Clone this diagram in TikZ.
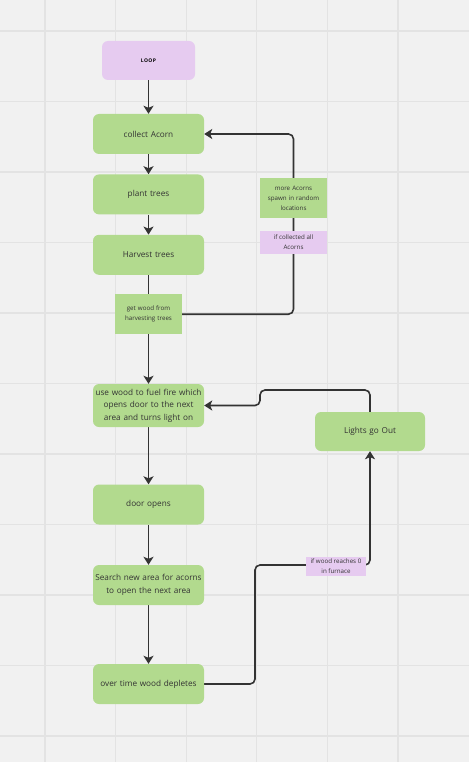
\documentclass[tikz,border=0pt]{standalone}
\usepackage{fontspec}
\setmainfont{Open Sans}
\usetikzlibrary{arrows.meta,positioning,backgrounds}
\definecolor{mgreen}{HTML}{B2DA8E}
\definecolor{mpurple}{HTML}{E6CBF0}
\definecolor{mbg}{HTML}{F1F1F1}
\definecolor{mgrid}{HTML}{E3E3E3}
\definecolor{mink}{HTML}{333333}
\tikzset{
  box/.style={fill=mgreen,rounded corners=6pt,minimum width=111pt,minimum height=40pt,text width=108pt,align=center,font=\fontsize{8.2}{12.5}\selectfont,text=mink,inner sep=0pt},
  loopbox/.style={fill=mpurple,rounded corners=6pt,minimum width=93pt,minimum height=39pt,font=\fontsize{5}{6}\selectfont\bfseries\addfontfeature{LetterSpace=8},inner sep=0pt},
  gnote/.style={fill=mgreen,minimum width=67pt,minimum height=40pt,text width=66pt,align=center,font=\fontsize{6.2}{10}\selectfont,text=mink,inner sep=0pt},
  pnote/.style={fill=mpurple,align=center,font=\fontsize{6.2}{10}\selectfont,text=mink,inner sep=0pt},
  gridline/.style={draw=mgrid,line width=1.3pt},
  arr/.style={-{Stealth[length=8pt,width=10pt,inset=2pt]},line width=1.6pt,draw=mink},
  barr/.style={arr,rounded corners=5pt},
  link/.style={line width=1.6pt,draw=mink,rounded corners=5pt},
}
\begin{document}
\begin{tikzpicture}[x=1pt,y=-1pt]
  \useasboundingbox (0,0) rectangle (469,762);
  \node[loopbox] (loop) at (148.5,60.5) {LOOP};
  \node[box] (collect) at (148.5,134) {collect Acorn};
  \node[box,below=20pt of collect] (plant) {plant trees};
  \node[box,below=20pt of plant] (harvest) {Harvest trees};
  \node[gnote,below=19pt of harvest] (getwood) {get wood from\\harvesting trees};
  \node[box,minimum height=43pt] (usewood) at (148.5,405.5) {use wood to fuel fire which opens door to the next area and turns light on};
  \node[box] (door) at (148.5,504.5) {door opens};
  \node[box] (search) at (148.5,585) {Search new area for acorns\\to open the next area};
  \node[box] (deplete) at (148.5,684) {over time wood depletes};
  \node[gnote] (spawn) at (293.5,198) {more Acorns\\spawn in random\\locations};
  \node[pnote,minimum width=67pt,minimum height=23pt] (allcoll) at (293.5,242.5) {if collected all\\Acorns};
  \node[box,minimum width=110pt,minimum height=39pt] (lights) at (370,431.5) {Lights go Out};
  \node[pnote,minimum width=60pt,minimum height=19pt] (furnace) at (336,566) {if wood reaches 0\\in furnace};
  \coordinate (ltop) at (260,390);
  \coordinate (wbend) at (255,565);
  \begin{scope}[on background layer]
    \fill[mbg] (0,0) rectangle (469,762);
    \foreach \i in {0,...,5} \draw[gridline] ({45+70.6*\i},0) -- ({45+70.6*\i},762);
    \foreach \j in {0,...,10} \draw[gridline] (0,{31+70.5*\j}) -- (469,{31+70.5*\j});
    \draw[arr] (loop) -- (collect);
    \draw[arr] (collect) -- (plant);
    \draw[arr] (plant) -- (harvest);
    \draw[link] (harvest) -- (getwood);
    \draw[arr] (getwood) -- (usewood);
    \draw[arr] (usewood) -- (door);
    \draw[arr] (door) -- (search);
    \draw[arr] (search) -- (deplete);
    \draw[barr] (getwood.east) -| (spawn.center) |- (collect.east);
    \draw[barr] (lights.north) |- (ltop) |- (usewood.east);
    \draw[barr] (deplete.east) -| (wbend) -| (lights.south);
  \end{scope}
\end{tikzpicture}
\end{document}
